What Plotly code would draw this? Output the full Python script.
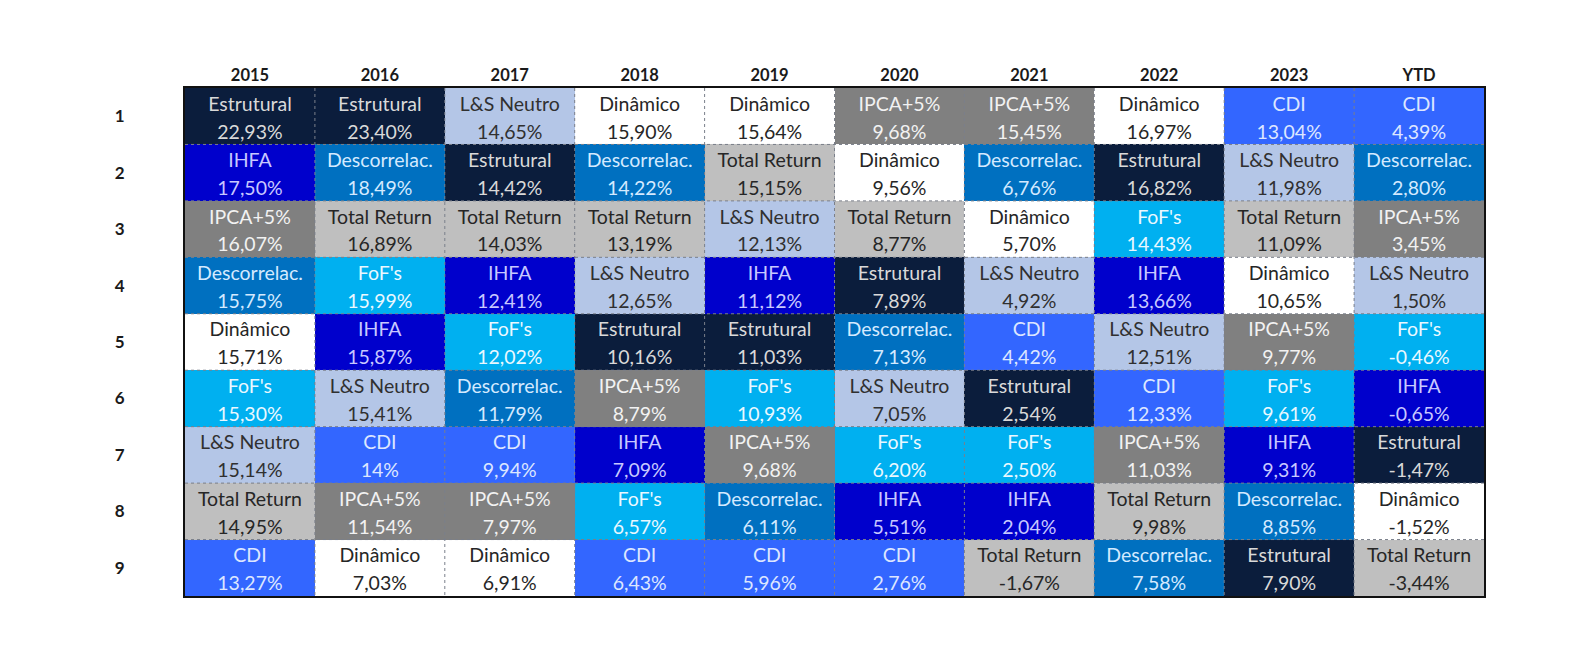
import plotly.graph_objects as go

# ---------------- data ----------------
years = ["2015", "2016", "2017", "2018", "2019", "2020", "2021", "2022", "2023", "YTD"]
ranks = ["1", "2", "3", "4", "5", "6", "7", "8", "9"]

categories = ["Estrutural", "IHFA", "Descorrelac.", "IPCA+5%", "Total Return",
              "L&S Neutro", "Dinâmico", "CDI", "FoF's"]
cat_fill = ["#0b1d3c", "#0000cc", "#0070c0", "#808080", "#bfbfbf",
            "#b4c6e7", "#ffffff", "#3366ff", "#00b0f0"]
cat_text = ["#d9d9d9", "#c8c8ff", "#d4eaff", "#f2f2f2", "#262626",
            "#303030", "#262626", "#dde6ff", "#eaf8ff"]

names_2015 = ["Estrutural", "IHFA", "IPCA+5%", "Descorrelac.", "Dinâmico", "FoF's", "L&S Neutro", "Total Return", "CDI"]
vals_2015 = [22.93, 17.50, 16.07, 15.75, 15.71, 15.30, 15.14, 14.95, 13.27]
names_2016 = ["Estrutural", "Descorrelac.", "Total Return", "FoF's", "IHFA", "L&S Neutro", "CDI", "IPCA+5%", "Dinâmico"]
vals_2016 = [23.40, 18.49, 16.89, 15.99, 15.87, 15.41, 14, 11.54, 7.03]
names_2017 = ["L&S Neutro", "Estrutural", "Total Return", "IHFA", "FoF's", "Descorrelac.", "CDI", "IPCA+5%", "Dinâmico"]
vals_2017 = [14.65, 14.42, 14.03, 12.41, 12.02, 11.79, 9.94, 7.97, 6.91]
names_2018 = ["Dinâmico", "Descorrelac.", "Total Return", "L&S Neutro", "Estrutural", "IPCA+5%", "IHFA", "FoF's", "CDI"]
vals_2018 = [15.90, 14.22, 13.19, 12.65, 10.16, 8.79, 7.09, 6.57, 6.43]
names_2019 = ["Dinâmico", "Total Return", "L&S Neutro", "IHFA", "Estrutural", "FoF's", "IPCA+5%", "Descorrelac.", "CDI"]
vals_2019 = [15.64, 15.15, 12.13, 11.12, 11.03, 10.93, 9.68, 6.11, 5.96]
names_2020 = ["IPCA+5%", "Dinâmico", "Total Return", "Estrutural", "Descorrelac.", "L&S Neutro", "FoF's", "IHFA", "CDI"]
vals_2020 = [9.68, 9.56, 8.77, 7.89, 7.13, 7.05, 6.20, 5.51, 2.76]
names_2021 = ["IPCA+5%", "Descorrelac.", "Dinâmico", "L&S Neutro", "CDI", "Estrutural", "FoF's", "IHFA", "Total Return"]
vals_2021 = [15.45, 6.76, 5.70, 4.92, 4.42, 2.54, 2.50, 2.04, -1.67]
names_2022 = ["Dinâmico", "Estrutural", "FoF's", "IHFA", "L&S Neutro", "CDI", "IPCA+5%", "Total Return", "Descorrelac."]
vals_2022 = [16.97, 16.82, 14.43, 13.66, 12.51, 12.33, 11.03, 9.98, 7.58]
names_2023 = ["CDI", "L&S Neutro", "Total Return", "Dinâmico", "IPCA+5%", "FoF's", "IHFA", "Descorrelac.", "Estrutural"]
vals_2023 = [13.04, 11.98, 11.09, 10.65, 9.77, 9.61, 9.31, 8.85, 7.90]
names_ytd = ["CDI", "Descorrelac.", "IPCA+5%", "L&S Neutro", "FoF's", "IHFA", "Estrutural", "Dinâmico", "Total Return"]
vals_ytd = [4.39, 2.80, 3.45, 1.50, -0.46, -0.65, -1.47, -1.52, -3.44]

# ---------------- build ----------------
col_names = [names_2015, names_2016, names_2017, names_2018, names_2019,
             names_2020, names_2021, names_2022, names_2023, names_ytd]
col_vals = [vals_2015, vals_2016, vals_2017, vals_2018, vals_2019,
            vals_2020, vals_2021, vals_2022, vals_2023, vals_ytd]


def fmt(v):
    if isinstance(v, int):
        return f"{v}%"
    return f"{v:.2f}".replace(".", ",") + "%"


n_cols = len(years)
n_rows = len(ranks)

z = [[categories.index(col_names[c][r]) for c in range(n_cols)] for r in range(n_rows)]

ncat = len(categories)
colorscale = []
for i, col in enumerate(cat_fill):
    colorscale.append([i / ncat, col])
    colorscale.append([(i + 1) / ncat, col])

fig = go.Figure()
fig.add_trace(go.Heatmap(
    z=z, x=list(range(n_cols)), y=list(range(n_rows)),
    colorscale=colorscale, zmin=-0.5, zmax=ncat - 0.5,
    showscale=False, hoverinfo="skip",
))

tx, ty_name, ty_val, t_name, t_val, t_col = [], [], [], [], [], []
for c in range(n_cols):
    for r in range(n_rows):
        nm = col_names[c][r]
        tx.append(c)
        ty_name.append(r - 0.185)
        ty_val.append(r + 0.31)
        t_name.append(nm)
        t_val.append(fmt(col_vals[c][r]))
        t_col.append(cat_text[categories.index(nm)])

font_family = "Lato, 'Open Sans', sans-serif"
fig.add_trace(go.Scatter(x=tx, y=ty_name, text=t_name, mode="text",
                         textfont=dict(family=font_family, size=19.5, color=t_col),
                         hoverinfo="skip", showlegend=False))
fig.add_trace(go.Scatter(x=tx, y=ty_val, text=t_val, mode="text",
                         textfont=dict(family=font_family, size=19.5, color=t_col),
                         hoverinfo="skip", showlegend=False))

# dotted inner grid
shapes = []
for k in range(n_cols - 1):
    shapes.append(dict(type="line", xref="x", yref="y", x0=k + 0.5, x1=k + 0.5,
                       y0=-0.5, y1=n_rows - 0.5,
                       line=dict(color="#7a7f8a", width=1, dash="dot"), layer="above"))
for k in range(n_rows - 1):
    shapes.append(dict(type="line", xref="x", yref="y", x0=-0.5, x1=n_cols - 0.5,
                       y0=k + 0.5, y1=k + 0.5,
                       line=dict(color="#7a7f8a", width=1, dash="dot"), layer="above"))

fig.update_layout(
    width=1596, height=658,
    margin=dict(l=185, r=112, t=88, b=62),
    paper_bgcolor="white", plot_bgcolor="white",
    shapes=shapes, showlegend=False,
    xaxis=dict(range=[-0.5, n_cols - 0.5], side="top", tickmode="array",
               tickvals=list(range(n_cols)), ticktext=years,
               tickfont=dict(family=font_family, size=16.5, color="#1a1a1a", weight="bold"),
               showgrid=False, zeroline=False, ticks="", ticklabelstandoff=-2,
               showline=True, mirror=True, linecolor="#111111", linewidth=2,
               fixedrange=True, automargin=False),
    yaxis=dict(range=[n_rows - 0.5, -0.5], tickmode="array",
               tickvals=list(range(n_rows)), ticktext=ranks,
               tickfont=dict(family=font_family, size=17, color="#1a1a1a", weight="bold"),
               showgrid=False, zeroline=False, ticks="", ticklabelstandoff=55,
               showline=True, mirror=True, linecolor="#111111", linewidth=2,
               fixedrange=True, automargin=False),
)

fig.write_html("out.html", config={"displayModeBar": False},
               post_script="document.body.style.margin='0';")
